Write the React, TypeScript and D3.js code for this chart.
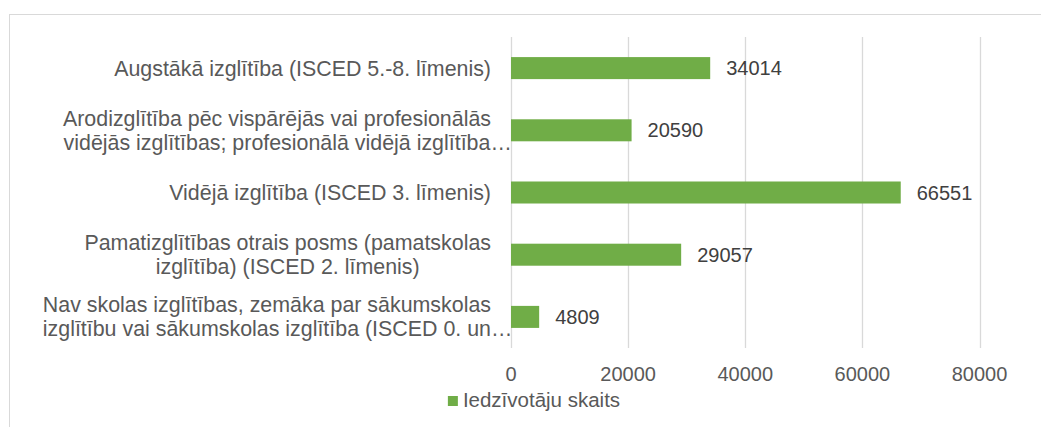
import React, { useEffect, useRef } from 'react';
import * as d3 from 'd3';

const categories = [
  ['Augstākā izglītība (ISCED 5.-8. līmenis)'],
  ['Arodizglītība pēc vispārējās vai profesionālās', 'vidējās izglītības; profesionālā vidējā izglītība…'],
  ['Vidējā izglītība (ISCED 3. līmenis)'],
  ['Pamatizglītības otrais posms (pamatskolas', 'izglītība) (ISCED 2. līmenis)'],
  ['Nav skolas izglītības, zemāka par sākumskolas', 'izglītību vai sākumskolas izglītība (ISCED 0. un…'],
];
const values = [34014, 20590, 66551, 29057, 4809];
const xTicks = [0, 20000, 40000, 60000, 80000];
const seriesName = 'Iedzīvotāju skaits';

const width = 1041;
const height = 427;
const font = "'Liberation Sans', Arial, sans-serif";
const green = '#70AD47';
const frameLeft = 9;
const frameRight = 1059;

const App = () => {
  const ref = useRef<SVGSVGElement | null>(null);

  useEffect(() => {
    const svg = d3.select(ref.current);
    svg.selectAll('*').remove();

    const x = d3.scaleLinear().domain([0, 80000]).range([511, 979.5]);
    const y = d3
      .scaleBand<number>()
      .domain(d3.range(categories.length))
      .range([37, 348])
      .paddingInner(0.646)
      .paddingOuter(0.323);

    // chart frame (runs off the right and bottom edges)
    svg
      .append('rect')
      .attr('x', frameLeft + 0.5)
      .attr('y', 14.5)
      .attr('width', frameRight - frameLeft)
      .attr('height', 600)
      .attr('fill', 'none')
      .attr('stroke', '#d9d9d9');

    // gridlines
    svg
      .append('g')
      .selectAll('line')
      .data(xTicks)
      .join('line')
      .attr('x1', (d) => Math.round(x(d)) + 0.5)
      .attr('x2', (d) => Math.round(x(d)) + 0.5)
      .attr('y1', 37)
      .attr('y2', 348)
      .attr('stroke', '#d9d9d9')
      .attr('stroke-width', 1.3);

    // tick labels
    svg
      .append('g')
      .selectAll('text')
      .data(xTicks)
      .join('text')
      .attr('x', (d) => x(d))
      .attr('y', 381)
      .attr('text-anchor', 'middle')
      .attr('font-family', font)
      .attr('font-size', 20)
      .attr('fill', '#595959')
      .text((d) => d);

    // bars
    svg
      .append('g')
      .selectAll('rect')
      .data(values)
      .join('rect')
      .attr('x', x(0))
      .attr('y', (_, i) => y(i)!)
      .attr('width', (d) => x(d) - x(0))
      .attr('height', y.bandwidth())
      .attr('fill', green);

    // value labels
    svg
      .append('g')
      .selectAll('text')
      .data(values)
      .join('text')
      .attr('x', (d) => x(d) + 16)
      .attr('y', (_, i) => y(i)! + y.bandwidth() / 2 + 7)
      .attr('font-family', font)
      .attr('font-size', 20)
      .attr('fill', '#404040')
      .text((d) => d);

    // category labels, lines centred in a right-aligned block
    const right = 491;
    const lineH = 24;
    const gCat = svg.append('g').attr('font-family', font).attr('font-size', 21.4).attr('fill', '#595959');
    categories.forEach((lines, i) => {
      const cy = y(i)! + y.bandwidth() / 2;
      const nodes = lines.map((ln, j) =>
        gCat
          .append('text')
          .attr('y', cy + (j - (lines.length - 1) / 2) * lineH + 7.5)
          .text(ln.replace('…', ''))
      );
      const widths = nodes.map((n) => (n.node() as SVGTextElement).getComputedTextLength());
      const maxW = Math.max(...widths);
      const cx = right - maxW / 2;
      nodes.forEach((n, j) => {
        n.attr('x', cx - widths[j] / 2).text(lines[j]);
      });
    });

    // legend, centred on the chart frame
    const legX = (frameLeft + frameRight) / 2;
    const leg = svg.append('g');
    const legText = leg
      .append('text')
      .attr('y', 407)
      .attr('font-family', font)
      .attr('font-size', 20.5)
      .attr('fill', '#595959')
      .text(seriesName);
    const tw = (legText.node() as SVGTextElement).getComputedTextLength();
    const start = legX - (tw + 15) / 2;
    leg.append('rect').attr('x', start).attr('y', 396).attr('width', 10).attr('height', 10).attr('fill', green);
    legText.attr('x', start + 15);
  }, []);

  return (
    <svg
      ref={ref}
      width={width}
      height={height}
      style={{ position: 'absolute', left: 0, top: 0, background: '#fff' }}
    />
  );
};

export default App;
